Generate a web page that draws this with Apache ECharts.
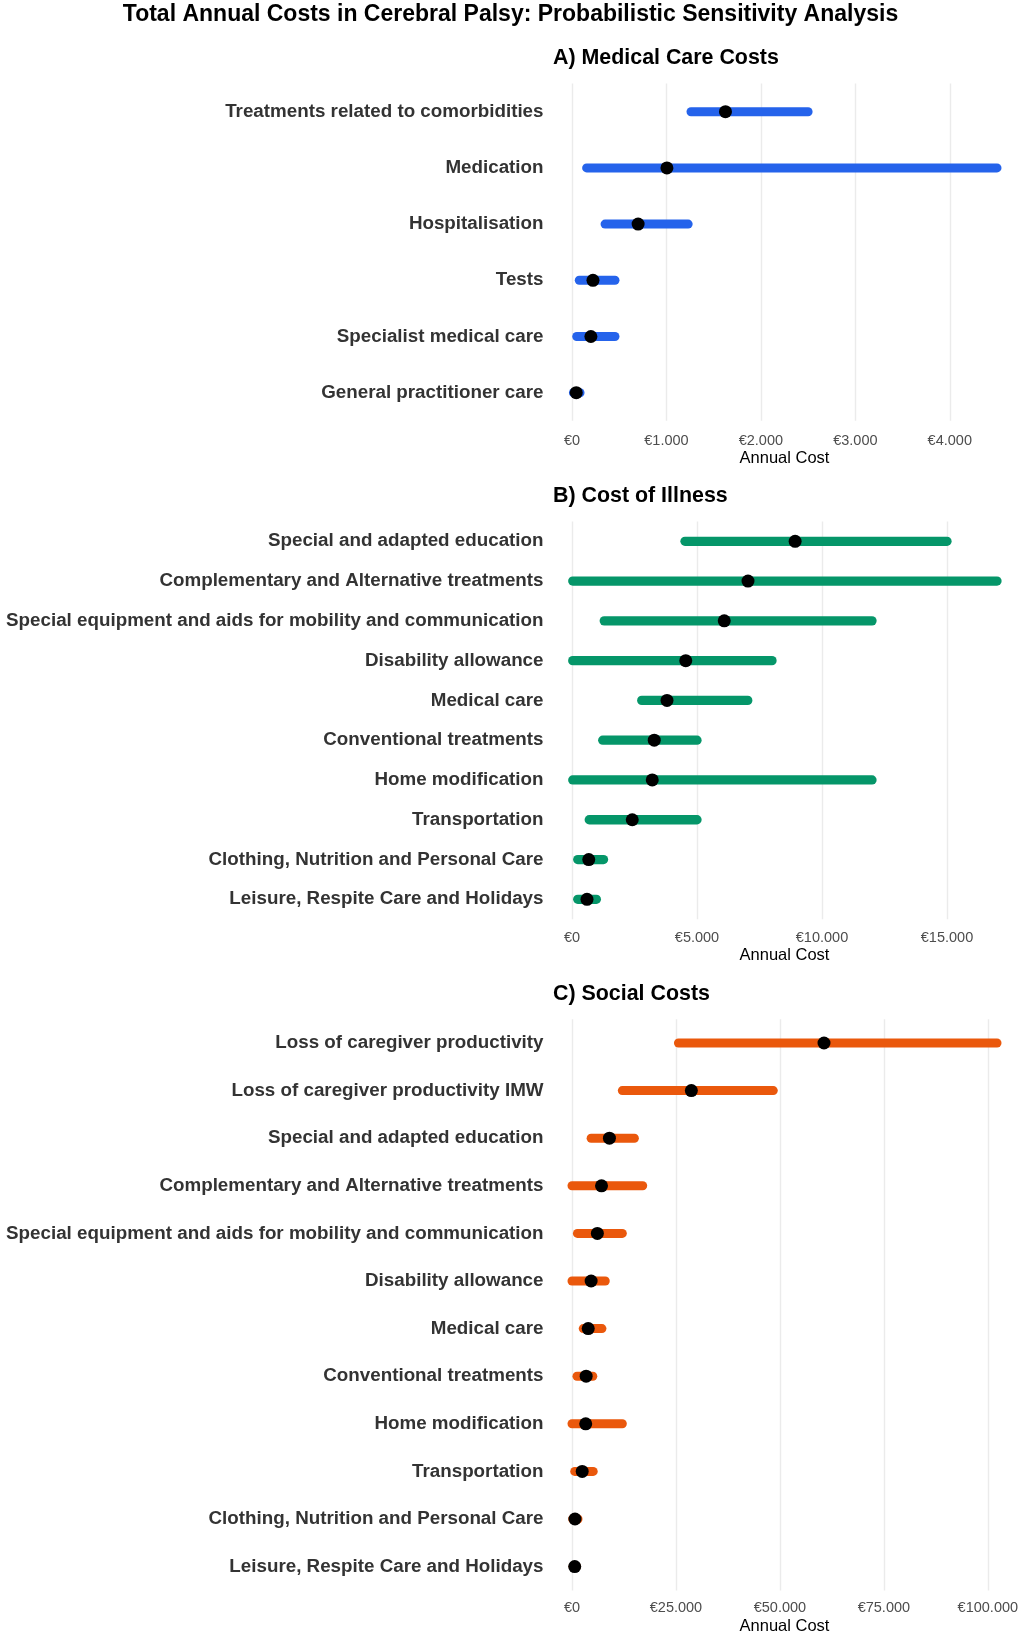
<!DOCTYPE html>
<html>
<head>
<meta charset="utf-8">
<script src="https://cdn.jsdelivr.net/npm/echarts@6/dist/echarts.min.js"></script>
<style>
html,body{margin:0;padding:0;background:#fff;}
#chart{width:1022px;height:1637px;}
</style>
</head>
<body>
<div id="chart"></div>
<script>
// ---- Data ----
const medCats = ["Treatments related to comorbidities","Medication","Hospitalisation","Tests","Specialist medical care","General practitioner care"];
const medLow  = [1260, 155, 350, 77, 50, 15];
const medMean = [1625, 1005, 700, 222, 200, 45];
const medHigh = [2500, 4500, 1230, 455, 455, 85];
const medTicks = [0, 1000, 2000, 3000, 4000];

const coiCats = ["Special and adapted education","Complementary and Alternative treatments","Special equipment and aids for mobility and communication","Disability allowance","Medical care","Conventional treatments","Home modification","Transportation","Clothing, Nutrition and Personal Care","Leisure, Respite Care and Holidays"];
const coiLow  = [4520, 30, 1290, 30, 2790, 1230, 30, 690, 230, 230];
const coiMean = [8925, 7040, 6090, 4550, 3800, 3290, 3210, 2410, 670, 600];
const coiHigh = [15000, 17000, 12000, 8000, 7030, 5000, 12000, 5000, 1260, 975];
const coiTicks = [0, 5000, 10000, 15000];

const socCats = ["Loss of caregiver productivity","Loss of caregiver productivity IMW","Special and adapted education","Complementary and Alternative treatments","Special equipment and aids for mobility and communication","Disability allowance","Medical care","Conventional treatments","Home modification","Transportation","Clothing, Nutrition and Personal Care","Leisure, Respite Care and Holidays"];
const socLow  = [25600, 12100, 4600, 0, 1300, 0, 2700, 1200, 0, 650, 150, 250];
const socMean = [60600, 28700, 9000, 7100, 6100, 4600, 3900, 3400, 3300, 2450, 720, 650];
const socHigh = [102200, 48400, 15000, 17000, 12100, 8000, 7200, 5000, 12100, 5100, 1450, 1100];
const socTicks = [0, 25000, 50000, 75000, 100000];

// ---- Build ----
const FONT = "'Liberation Sans', Arial, Helvetica, sans-serif";
function euro(v){ return '€' + String(Math.round(v)).replace(/\B(?=(\d{3})+(?!\d))/g, '.'); }

const panels = [
  {cats: medCats, low: medLow, mean: medMean, high: medHigh, ticks: medTicks, color: '#2563EB',
   top: 83.6, height: 337.2, lw: 9, labelMargin: 13, title: 'A) Medical Care Costs', titleY: 58.3, nameY: 458.7},
  {cats: coiCats, low: coiLow, mean: coiMean, high: coiHigh, ticks: coiTicks, color: '#059669',
   top: 521.4, height: 397.8, lw: 9.3, labelMargin: 11.5, title: 'B) Cost of Illness', titleY: 496.5, nameY: 955},
  {cats: socCats, low: socLow, mean: socMean, high: socHigh, ticks: socTicks, color: '#EA580C',
   top: 1019.2, height: 571.2, lw: 9, labelMargin: 10.5, title: 'C) Social Costs', titleY: 994, nameY: 1626.5}
];

const gridLeft = 572, gridRightX = 997;
const grids = [], xAxes = [], yAxes = [], series = [];
const graphics = [{
  type: 'text', x: 510.5, y: 14.6,
  style: {text: 'Total Annual Costs in Cerebral Palsy: Probabilistic Sensitivity Analysis', font: 'bold 23px ' + FONT,
          fill: '#000', textAlign: 'center', textVerticalAlign: 'middle'}
}];

panels.forEach((p, i) => {
  const maxV = Math.max(...p.high);
  const interval = p.ticks[1] - p.ticks[0];
  grids.push({left: gridLeft, width: gridRightX - gridLeft, top: p.top, height: p.height, containLabel: false});
  xAxes.push({
    type: 'value', gridIndex: i, min: 0, max: maxV, interval: interval,
    axisLine: {show: false}, axisTick: {show: false},
    splitLine: {show: true, showMaxLine: false, lineStyle: {color: '#EBEBEB', width: 1.4}},
    axisLabel: {show: true, showMaxLabel: false, margin: p.labelMargin, color: '#4D4D4D', fontSize: 14.5, fontFamily: FONT,
      formatter: v => (p.ticks.indexOf(v) >= 0 ? euro(v) : '')}
  });
  yAxes.push({
    type: 'category', gridIndex: i, data: p.cats, inverse: true, boundaryGap: true,
    axisLine: {show: false}, axisTick: {show: false}, splitLine: {show: false},
    axisLabel: {margin: 28.5, color: '#333333', fontWeight: 'bold', fontSize: 18.8, fontFamily: FONT, interval: 0}
  });
  const rng = p.cats.map((c, k) => [p.low[k], p.high[k], k]);
  series.push({
    type: 'custom', xAxisIndex: i, yAxisIndex: i, data: rng, encode: {x: [0, 1], y: 2}, z: 2,
    renderItem: (params, api) => {
      const s = api.coord([api.value(0), api.value(2)]);
      const e = api.coord([api.value(1), api.value(2)]);
      return {type: 'line', shape: {x1: s[0], y1: s[1], x2: e[0], y2: e[1]},
              style: {stroke: p.color, lineWidth: p.lw, lineCap: 'round'}};
    }
  });
  series.push({
    type: 'scatter', xAxisIndex: i, yAxisIndex: i, z: 3,
    data: p.cats.map((c, k) => [p.mean[k], k]),
    symbol: 'circle', symbolSize: 13, itemStyle: {color: '#000', opacity: 1}
  });
  graphics.push({type: 'text', x: 553, y: p.titleY,
    style: {text: p.title, font: 'bold 21.4px ' + FONT, fill: '#000', textAlign: 'left', textVerticalAlign: 'middle'}});
  graphics.push({type: 'text', x: (gridLeft + gridRightX) / 2, y: p.nameY,
    style: {text: 'Annual Cost', font: '16.5px ' + FONT, fill: '#000', textAlign: 'center', textVerticalAlign: 'middle'}});
});

const chart = echarts.init(document.getElementById('chart'), null, {renderer: 'canvas'});
chart.setOption({
  animation: false,
  backgroundColor: '#ffffff',
  grid: grids, xAxis: xAxes, yAxis: yAxes, series: series,
  graphic: graphics
});
</script>
</body>
</html>
